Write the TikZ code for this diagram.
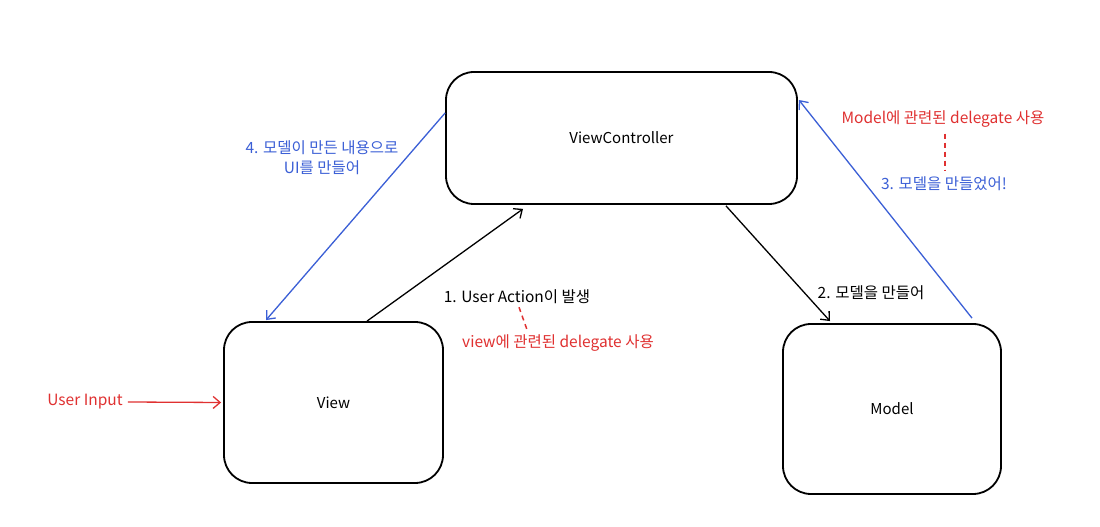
\documentclass[tikz,border=0pt]{standalone}
\usepackage{fontspec}
\setmainfont{Noto Sans CJK KR}
\usetikzlibrary{arrows.meta,calc}
\definecolor{exblue}{HTML}{3B5FD6}
\definecolor{exred}{HTML}{E03131}
\tikzset{
  box/.style={draw=black, line width=1.8pt, rounded corners=28pt, fill=white},
  conn/.style={line width=1.3pt, -{Straight Barb[length=7pt,width=12pt,line width=1.3pt]}},
  lbl/.style={font=\fontsize{15.5}{20}\selectfont, inner sep=1pt},
  blbl/.style={font=\fontsize{15}{18}\selectfont, inner sep=1pt},
  reddash/.style={exred, line width=1.5pt, dash pattern=on 5pt off 4pt},
}
\begin{document}
\begin{tikzpicture}[x=1pt,y=1pt]
\useasboundingbox[fill=white] (0,0) rectangle (1100,527);
% boxes
\node[box, minimum width=351pt, minimum height=132pt] (vc) at (621.5,389) {};
\node[blbl] at (vc.center) {ViewController};
\node[box, minimum width=219pt, minimum height=161pt] (view) at (333.5,124.5) {};
\node[blbl] at (view.center) {View};
\node[box, minimum width=218pt, minimum height=170pt] (model) at (892,118) {};
\node[blbl] at (model.center) {Model};
% connectors
\draw[conn] ([xshift=33.5pt]view.north) -- ([xshift=-98.5pt,yshift=-4pt]vc.south);
\draw[conn] ([xshift=104.5pt,yshift=-1pt]vc.south) -- ([xshift=-62pt,yshift=2pt]model.north);
\draw[conn, exblue] ([xshift=80pt,yshift=5pt]model.north) -- ([xshift=1pt,yshift=38pt]vc.east);
\draw[conn, exblue] ([yshift=25pt]vc.west) -- ([xshift=-67.5pt,yshift=1pt]view.north);
% labels
\node[lbl, text=exblue, align=center] (lbl4) at (322,369.5) {4. 모델이 만든 내용으로\\UI를 만들어};
\node[lbl, text=exred] (mdel) at (943,408) {Model에 관련된 delegate 사용};
\node[lbl, text=exblue] (lbl3) at (944,343) {3. 모델을 만들었어!};
\draw[reddash] ([xshift=2pt,yshift=-5pt]mdel.south) -- ([xshift=1pt,yshift=5pt]lbl3.north);
\node[lbl] (lbl1) at (517,230) {1. User Action이 발생};
\node[lbl, text=exred] (vdel) at (558,184) {view에 관련된 delegate 사용};
\draw[reddash] ([xshift=2pt,yshift=-2pt]lbl1.south) -- ([xshift=-30pt,yshift=1pt]vdel.north);
\node[lbl] (lbl2) at (871,234) {2. 모델을 만들어};
\node[lbl, text=exred] (uin) at (85,125) {User Input};
\draw[conn, exred] ([xshift=4pt]uin.east) -- ([xshift=-2pt]view.west);
\end{tikzpicture}
\end{document}
